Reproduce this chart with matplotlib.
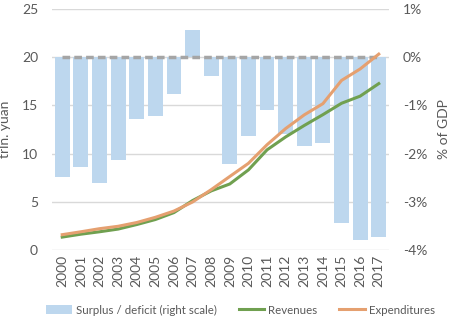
import numpy as np
import matplotlib.pyplot as plt
from matplotlib.ticker import FuncFormatter

years = [str(y) for y in range(2000, 2018)]
# budget balance, % of GDP
balance = [-2.49, -2.27, -2.60, -2.14, -1.29, -1.21, -0.76, 0.57, -0.40,
           -2.22, -1.64, -1.10, -1.60, -1.85, -1.79, -3.44, -3.80, -3.72]
# trln. yuan
revenues = [1.34, 1.64, 1.89, 2.17, 2.64, 3.16, 3.88, 5.13, 6.13,
            6.85, 8.31, 10.39, 11.73, 12.92, 14.04, 15.22, 15.96, 17.26]
expenditures = [1.59, 1.89, 2.21, 2.46, 2.85, 3.39, 4.04, 4.98, 6.26,
                7.63, 8.99, 10.92, 12.60, 14.02, 15.18, 17.59, 18.78, 20.32]

BLUE = '#bdd7ee'
GREEN = '#70a050'
ORANGE = '#e5a070'
GREY = '#a5a5a5'
TXT = '#595959'

plt.rcParams['font.family'] = ['Lato', 'DejaVu Sans']
plt.rcParams['font.size'] = 10

fig = plt.figure(figsize=(4.54, 3.22), dpi=100)
ax = fig.add_axes([52 / 454, 1 - 250 / 322, 337 / 454, 241 / 322])
ax2 = ax.twinx()
x = np.arange(len(years))

# bars on the base axes so the lines sit on top
ax.bar(x, balance, width=0.8, color=BLUE, zorder=2, label='Surplus / deficit (right scale)')
ax.plot(x, np.zeros(len(x)), color=GREY, lw=2.5, ls=(0, (2.2, 1.2)), zorder=3)
ax.set_ylim(-4, 1)
ax.set_yticks([-4, -3, -2, -1, 0, 1])
ax.yaxis.set_major_formatter(FuncFormatter(lambda v, p: f'{v:.0f}%'))
ax.grid(axis='y', color='#d9d9d9', lw=1, zorder=0)
ax.set_axisbelow(True)

ax2.plot(x, revenues, color=GREEN, lw=2.2, label='Revenues', zorder=4)
ax2.plot(x, expenditures, color=ORANGE, lw=2.2, label='Expenditures', zorder=4)
ax2.set_ylim(0, 25)
ax2.set_yticks([0, 5, 10, 15, 20, 25])

# swap sides: percent scale on the right, yuan on the left
ax.yaxis.tick_right()
ax.yaxis.set_label_position('right')
ax2.yaxis.tick_left()
ax2.yaxis.set_label_position('left')
ax.set_ylabel('% of GDP', color=TXT, labelpad=8)
ax2.set_ylabel('trln. yuan', color=TXT, labelpad=8)

ax.set_xlim(-0.55, len(x) - 0.45)
ax.set_xticks(x)
ax.set_xticklabels(years, rotation=90)

for a in (ax, ax2):
    for s in a.spines.values():
        s.set_visible(False)
    a.tick_params(length=0, colors=TXT, labelsize=10)
ax.tick_params(axis='y', pad=10)
ax2.tick_params(axis='y', pad=10)

h1, l1 = ax.get_legend_handles_labels()
h2, l2 = ax2.get_legend_handles_labels()
fig.legend(h1 + h2, l1 + l2, loc='center', bbox_to_anchor=(0.53, 1 - 310 / 322),
           ncol=3, frameon=False, handlelength=2.2, handletextpad=0.35,
           columnspacing=1.9, labelcolor=TXT, fontsize=8.3)

fig.savefig('out.png', dpi=100)
